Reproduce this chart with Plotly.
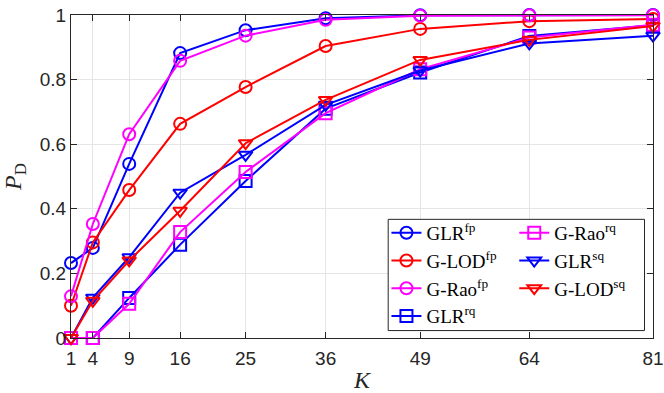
import plotly.graph_objects as go

K = [1, 4, 9, 16, 25, 36, 49, 64, 81]
y_ticks = [0, 0.2, 0.4, 0.6, 0.8, 1]
y_tick_labels = ["0", "0.2", "0.4", "0.6", "0.8", "1"]

glr_fp = [0.232, 0.279, 0.539, 0.882, 0.953, 0.990, 0.999, 1.0, 1.0]
glod_fp = [0.100, 0.296, 0.458, 0.663, 0.777, 0.904, 0.957, 0.981, 0.988]
grao_fp = [0.129, 0.353, 0.631, 0.858, 0.936, 0.985, 0.998, 0.999, 0.999]
glr_rq = [0.0, 0.0, 0.124, 0.289, 0.486, 0.710, 0.822, 0.935, 0.968]
grao_rq = [0.0, 0.0, 0.106, 0.328, 0.514, 0.696, 0.832, 0.930, 0.970]
glr_sq = [0.0, 0.125, 0.250, 0.450, 0.567, 0.722, 0.828, 0.912, 0.936]
glod_sq = [0.0, 0.115, 0.240, 0.394, 0.603, 0.737, 0.861, 0.923, 0.966]

names = ["GLR<sup>fp</sup>", "G-LOD<sup>fp</sup>", "G-Rao<sup>fp</sup>", "GLR<sup>rq</sup>",
         "G-Rao<sup>rq</sup>", "GLR<sup>sq</sup>", "G-LOD<sup>sq</sup>"]
series = [glr_fp, glod_fp, grao_fp, glr_rq, grao_rq, glr_sq, glod_sq]
colors = ["#0000FF", "#FF0000", "#FF00FF", "#0000FF", "#FF00FF", "#0000FF", "#FF0000"]
symbols = ["circle-open", "circle-open", "circle-open", "square-open", "square-open",
           "triangle-down-open", "triangle-down-open"]
legend_ids = ["legend", "legend", "legend", "legend", "legend2", "legend2", "legend2"]

fig = go.Figure()
for nm, ys, c, s, lg in zip(names, series, colors, symbols, legend_ids):
    fig.add_trace(go.Scatter(
        x=K, y=ys, name=nm, mode="lines+markers",
        line=dict(color=c, width=2),
        marker=dict(symbol=s, size=12, color=c, line=dict(color=c, width=2)),
        cliponaxis=False, legend=lg,
    ))

axis_common = dict(
    showline=True, linecolor="#262626", linewidth=1, mirror="ticks",
    ticks="inside", ticklen=6, tickcolor="#262626",
    showgrid=True, gridcolor="#e5e5e5", gridwidth=1, zeroline=False,
    tickfont=dict(family="Liberation Sans, Arial", size=19, color="#262626"),
    automargin=False, ticklabeloverflow="allow",
)

legend_common = dict(
    orientation="v", traceorder="normal", yanchor="top", xanchor="left",
    bgcolor="rgba(0,0,0,0)", borderwidth=0,
    font=dict(family="Liberation Serif", size=19, color="black"),
    itemwidth=30,
)

fig.update_layout(
    width=664, height=393,
    margin=dict(l=71, r=11, t=15, b=55, autoexpand=False),
    paper_bgcolor="white", plot_bgcolor="white",
    xaxis=dict(range=[1, 81], tickvals=K, ticktext=[str(k) for k in K],
               ticklabelstandoff=3,
               title=dict(text="<i>K</i>", font=dict(family="Liberation Serif", size=24, color="#262626"),
                          standoff=8),
               **axis_common),
    yaxis=dict(range=[0, 1], tickvals=y_ticks, ticktext=y_tick_labels,
               title=dict(text="<i>P</i><sub>D</sub>", font=dict(family="Liberation Serif", size=24, color="#262626"),
                          standoff=16),
               **axis_common),
    legend=dict(x=0.542, y=0.384, **legend_common),
    legend2=dict(x=0.7616, y=0.384, **legend_common),
    shapes=[dict(type="rect", xref="paper", yref="paper",
                 x0=0.545, x1=0.9854, y0=0.023, y1=0.3674,
                 line=dict(color="#262626", width=1), fillcolor="white", layer="above")],
    showlegend=True,
)

fig.write_html(
    "out.html",
    config={"displayModeBar": False},
    post_script="document.body.style.margin='0px';document.body.style.overflow='hidden';"
                "document.documentElement.style.overflow='hidden';",
)
